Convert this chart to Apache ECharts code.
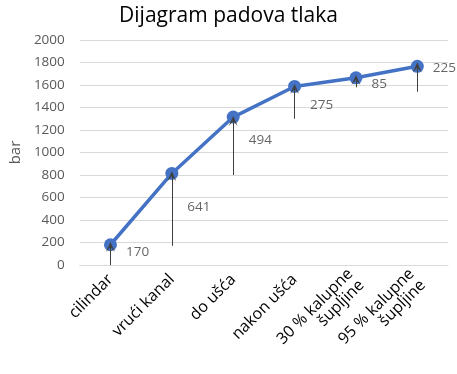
<!DOCTYPE html>
<html><head><meta charset="utf-8">
<script src="https://cdn.jsdelivr.net/npm/echarts@6/dist/echarts.min.js"></script>
<style>html,body{margin:0;padding:0;background:#fff}#c{width:457px;height:374px}</style>
</head><body><div id="c"></div>
<script>
var categories = ['cilindar', 'vrući kanal', 'do ušća', 'nakon ušća', '30 % kalupne\nšupljine', '95 % kalupne\nšupljine'];
var pressure = [180, 814, 1315, 1587, 1664, 1766];
var drops = [170, 641, 494, 275, 85, 225];
var arrowStart = [0, 170, 800, 1300, 1580, 1540];
var arrowEnd = [160, 790, 1280, 1565, 1645, 1755];
var dropLabelAt = [111, 510, 1109, 1418, 1604, 1749];
var yTicks = [0, 2000, 200];

var FONT = 'Open Sans';
var chart = echarts.init(document.getElementById('c'));
var arrowLines = categories.map(function (c, i) {
  return [{ coord: [c, arrowStart[i]] }, { coord: [c, arrowEnd[i]] }];
});
chart.setOption({
  animation: false,
  title: { text: 'Dijagram padova tlaka', left: 'center', top: 1,
    textStyle: { fontFamily: FONT, fontSize: 21, fontWeight: 'normal', color: '#000' } },
  grid: { left: 68, right: 9, top: 40, bottom: 109 },
  xAxis: {
    type: 'category', data: categories, boundaryGap: true,
    axisLine: { lineStyle: { color: '#d9d9d9' } }, axisTick: { show: false },
    axisLabel: { rotate: 45, margin: 12, color: '#000', fontFamily: FONT, fontSize: 16, lineHeight: 16, interval: 0 }
  },
  yAxis: {
    type: 'value', min: yTicks[0], max: yTicks[1], interval: yTicks[2],
    name: 'bar', nameLocation: 'middle', nameRotate: 90, nameGap: 53,
    nameTextStyle: { fontFamily: FONT, fontSize: 15, color: '#595959' },
    axisLine: { show: false }, axisTick: { show: false },
    axisLabel: { margin: 15, color: '#595959', fontFamily: FONT, fontSize: 13.5,
      formatter: function (v) { return String(v); } },
    splitLine: { lineStyle: { color: '#d9d9d9', width: 1 } }
  },
  series: [
    { type: 'line', data: pressure, symbol: 'circle', symbolSize: 13, z: 2,
      lineStyle: { color: '#4472C4', width: 3.5 }, itemStyle: { color: '#4472C4' } },
    { type: 'line', data: [], z: 5,
      markLine: { silent: true, symbol: ['none', 'path://M5,0 L10,10 L5,5 L0,10 Z'], symbolSize: [9, 10],
        label: { show: false }, lineStyle: { color: '#404040', width: 1, type: 'solid' },
        emphasis: { disabled: true }, data: arrowLines } },
    { type: 'scatter', z: 6, symbolSize: 1, itemStyle: { color: 'rgba(0,0,0,0)' },
      data: categories.map(function (c, i) { return [c, dropLabelAt[i]]; }),
      label: { show: true, position: 'right', distance: 15, color: '#404040', fontFamily: FONT, fontSize: 13.5,
        formatter: function (p) { return String(drops[p.dataIndex]); } } }
  ]
});
</script></body></html>
